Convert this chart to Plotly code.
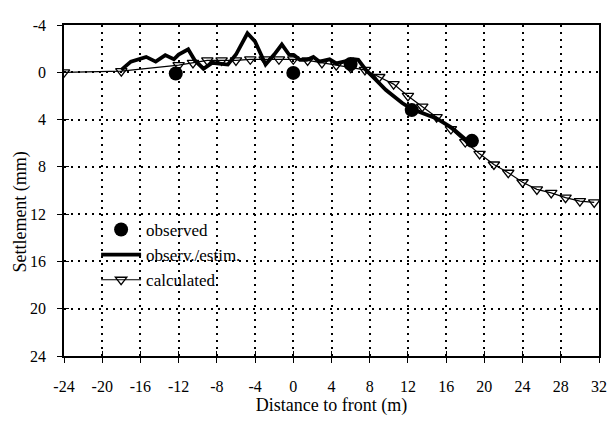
import plotly.graph_objects as go

# ---- data ----
obs_x = [-12.3, 0.0, 6.0, 12.4, 18.7]
obs_y = [0.1, 0.05, -0.7, 3.2, 5.8]

est_x = [-18.0, -17.0, -15.4, -14.4, -13.4, -12.5, -12.0, -11.0, -10.3, -9.4, -8.5, -6.85,
         -6.0, -4.8, -4.0, -2.9, -2.0, -1.2, -0.45, 0.07, 0.7, 1.4, 2.1, 2.75, 3.8, 4.5,
         5.3, 6.3, 6.8, 7.6, 8.6, 9.7, 11.4, 12.4, 15.0, 16.6, 18.5]
est_y = [-0.2, -0.9, -1.3, -0.9, -1.45, -1.1, -1.5, -1.95, -1.0, -0.3, -0.8, -0.65,
         -1.5, -3.3, -2.6, -0.65, -1.5, -2.35, -1.5, -1.45, -1.05, -1.05, -1.3, -0.9, -1.1, -0.75,
         -0.9, -1.1, -1.05, -0.2, 0.6, 1.5, 2.6, 3.1, 3.9, 4.7, 6.0]

calc_x = [-24, -18, -12, -10.5, -9, -7.5, -6, -4.5, -3, -1.5, 0, 1.5, 3, 4.5, 6, 7.5, 9,
          10.5, 12, 13.5, 15, 16.5, 18, 19.5, 21, 22.5, 24, 25.5, 27, 28.5, 30, 31.5]
calc_y = [0.0, -0.1, -0.6, -0.8, -1.0, -1.0, -1.0, -1.1, -1.1, -1.1, -1.1, -1.0, -0.8, -0.6,
          -0.4, -0.2, 0.4, 1.0, 2.0, 2.9, 3.8, 4.8, 5.9, 6.9, 7.8, 8.5, 9.3, 9.9, 10.2, 10.6,
          10.9, 11.0]

x_ticks = [-24, -20, -16, -12, -8, -4, 0, 4, 8, 12, 16, 20, 24, 28, 32]
x_tick_text = ["-24", "-20", "-16", "-12", "-8", "-4", "0", "4", "8", "12", "16", "20", "24", "28", "32"]
y_ticks = [-4, 0, 4, 8, 12, 16, 20, 24]
y_tick_text = ["-4", "0", "4", "8", "12", "16", "20", "24"]

x_title = "Distance to front (m)"
y_title = "Settlement (mm)"

FONT = "Liberation Serif, Times New Roman, DejaVu Serif, serif"

fig = go.Figure()
fig.add_trace(go.Scatter(
    x=calc_x, y=calc_y, mode="lines+markers", name="calculated",
    line=dict(color="black", width=1.2),
    marker=dict(symbol="triangle-down-open", size=10, color="black", line=dict(width=1.3)),
    legendrank=3, legendgroup="c"))
fig.add_trace(go.Scatter(
    x=est_x, y=est_y, mode="lines", name="observ./estim.",
    line=dict(color="black", width=3.8), legendrank=2, legendgroup="b"))
fig.add_trace(go.Scatter(
    x=obs_x, y=obs_y, mode="markers", name="observed",
    marker=dict(symbol="circle", size=14, color="black"), legendrank=1, legendgroup="a"))
# overlay axes for inner tick halves
fig.add_trace(go.Scatter(x=[], y=[], xaxis="x2", yaxis="y2", showlegend=False))

axis_common = dict(showline=True, linecolor="black", linewidth=1.5, mirror=True,
                   ticks="outside", ticklen=5, tickwidth=1.2, tickcolor="black",
                   showgrid=True, gridcolor="black", gridwidth=1.6, griddash="2px,5px",
                   zeroline=False, tickfont=dict(family=FONT, size=16, color="black"))

fig.update_layout(
    width=608, height=413,
    margin=dict(l=56, r=10, t=9, b=59),
    plot_bgcolor="white", paper_bgcolor="white",
    font=dict(family=FONT, color="black"),
    xaxis=dict(range=[-24, 32], tickvals=x_ticks, ticktext=x_tick_text,
               ticklabelstandoff=10,
               title=dict(text=x_title, font=dict(family=FONT, size=18), standoff=4),
               **axis_common),
    yaxis=dict(range=[24, -4], tickvals=y_ticks, ticktext=y_tick_text,
               ticklabelstandoff=8,
               **axis_common),
    xaxis2=dict(overlaying="x", anchor="y2", range=[-24, 32], tickvals=x_ticks, showticklabels=False,
                ticks="inside", ticklen=5, tickwidth=1.2, tickcolor="black",
                showgrid=False, zeroline=False, showline=False),
    yaxis2=dict(overlaying="y", anchor="x2", range=[24, -4], tickvals=y_ticks, showticklabels=False,
                ticks="inside", ticklen=5, tickwidth=1.2, tickcolor="black",
                showgrid=False, zeroline=False, showline=False),
    legend=dict(x=0.06, y=0.435, xanchor="left", yanchor="top", bgcolor="rgba(0,0,0,0)",
                font=dict(family=FONT, size=17), tracegroupgap=0, itemwidth=40),
    annotations=[dict(text=y_title, textangle=-90, xref="paper", yref="paper",
                      x=-0.083, y=0.435, xanchor="center", yanchor="middle", showarrow=False,
                      font=dict(family=FONT, size=18, color="black"))],
)

fig.write_html("out.html")
